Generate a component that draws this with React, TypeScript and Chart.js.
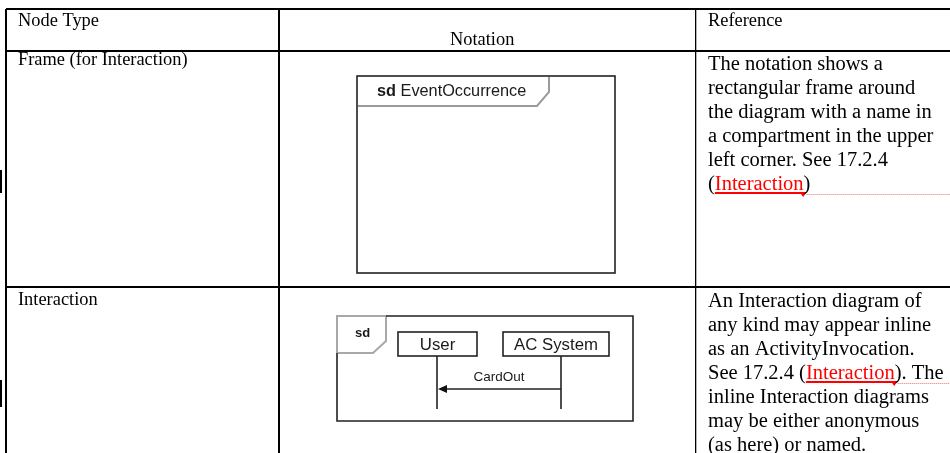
import React, { useEffect, useRef } from "react";
import { Chart, registerables } from "chart.js";

Chart.register(...registerables);

// ---- content (text of the table) ----
const columnHeaders = ["Node Type", "Notation", "Reference"];
const nodeTypes = ["Frame (for Interaction)", "Interaction"];
const referenceRow1 = [
  "The notation shows a",
  "rectangular frame around",
  "the diagram with a name in",
  "a compartment in the upper",
  "left corner. See 17.2.4",
  "(Interaction)",
];
const referenceRow2 = [
  "An Interaction diagram of",
  "any kind may appear inline",
  "as an ActivityInvocation.",
  "See 17.2.4 (Interaction). The",
  "inline Interaction diagrams",
  "may be either anonymous",
  "(as here) or named.",
];
const linkWord = "Interaction";
const frameKeyword = "sd";
const frameName = "EventOccurrence";
const lifelines = ["User", "AC System"];
const messages = ["CardOut"];

// ---- table layout (pixel units of the page) ----
const columnEdges = [6, 279, 696];
const rowEdges = [9, 51, 287];

const SERIF = '"Liberation Serif", "Times New Roman", serif';
const SANS = '"Liberation Sans", Arial, sans-serif';

const drawingPlugin = {
  id: "umlTable",
  afterDraw(chart: any) {
    const ctx: CanvasRenderingContext2D = chart.ctx;
    const X = (v: number) => chart.scales.x.getPixelForValue(v);
    const Y = (v: number) => chart.scales.y.getPixelForValue(v);
    ctx.save();
    ctx.textBaseline = "alphabetic";
    ctx.textAlign = "left";

    // change bars at the left margin
    ctx.fillStyle = "#000";
    ctx.fillRect(0, Y(170), 2, Y(193) - Y(170));
    ctx.fillRect(0, Y(380), 2, Y(407) - Y(380));

    // headers
    ctx.fillStyle = "#000";
    ctx.font = `18.4px ${SERIF}`;
    ctx.fillText(columnHeaders[0], X(18), Y(26));
    ctx.fillText(columnHeaders[1], X(450), Y(45));
    ctx.fillText(columnHeaders[2], X(708), Y(26));

    // node types
    ctx.fillText(nodeTypes[0], X(18), Y(65));
    ctx.fillText(nodeTypes[1], X(18), Y(305));

    // reference paragraphs
    const drawRef = (lines: string[], y0: number) => {
      ctx.font = `20.5px ${SERIF}`;
      lines.forEach((line, i) => {
        const y = Y(y0 + i * 24);
        let x = X(708);
        const key = "(" + linkWord + ")";
        const idx = line.indexOf(key);
        if (idx < 0) {
          ctx.fillStyle = "#000";
          ctx.fillText(line, x, y);
          return;
        }
        const pre = line.slice(0, idx + 1);
        const post = line.slice(idx + 1 + linkWord.length);
        ctx.fillStyle = "#000";
        ctx.fillText(pre, x, y);
        x += ctx.measureText(pre).width;
        const lw = ctx.measureText(linkWord).width;
        ctx.fillStyle = "#ff0000";
        ctx.fillText(linkWord, x, y);
        // underline
        ctx.fillRect(x, y + 2, lw, 2);
        // small marker
        ctx.beginPath();
        ctx.moveTo(x + lw - 4, y + 2);
        ctx.lineTo(x + lw + 3, y + 2);
        ctx.lineTo(x + lw - 0.5, y + 7);
        ctx.closePath();
        ctx.fill();
        // dotted leader to the page edge
        ctx.strokeStyle = "#f07070";
        ctx.lineWidth = 1;
        ctx.setLineDash([1, 1]);
        ctx.beginPath();
        ctx.moveTo(x + lw + 3, y + 4.5);
        ctx.lineTo(950, y + 4.5);
        ctx.stroke();
        ctx.setLineDash([]);
        ctx.fillStyle = "#000";
        ctx.fillText(post, x + lw, y);
      });
    };
    drawRef(referenceRow1, 70);
    drawRef(referenceRow2, 307);

    // ---- Frame (for Interaction) diagram ----
    ctx.strokeStyle = "#222";
    ctx.lineWidth = 1.6;
    ctx.strokeRect(X(357), Y(76), X(615) - X(357), Y(273) - Y(76));
    ctx.strokeStyle = "#9a9a9a";
    ctx.lineWidth = 2;
    ctx.beginPath();
    ctx.moveTo(X(358), Y(106));
    ctx.lineTo(X(537), Y(106));
    ctx.lineTo(X(549), Y(92));
    ctx.lineTo(X(549), Y(77));
    ctx.stroke();
    ctx.fillStyle = "#1a1a1a";
    ctx.font = `bold 16.3px ${SANS}`;
    ctx.fillText(frameKeyword, X(377), Y(96));
    const kw = ctx.measureText(frameKeyword + " ").width;
    ctx.font = `16.3px ${SANS}`;
    ctx.fillText(frameName, X(377) + kw, Y(96));

    // ---- Interaction diagram ----
    // tab (gray)
    ctx.strokeStyle = "#a8a8a8";
    ctx.lineWidth = 2;
    ctx.beginPath();
    ctx.moveTo(X(337), Y(353));
    ctx.lineTo(X(337), Y(316));
    ctx.lineTo(X(386), Y(316));
    ctx.lineTo(X(386), Y(341));
    ctx.lineTo(X(373), Y(353));
    ctx.lineTo(X(337), Y(353));
    ctx.stroke();
    // frame (dark)
    ctx.strokeStyle = "#222";
    ctx.lineWidth = 1.6;
    ctx.beginPath();
    ctx.moveTo(X(386), Y(316));
    ctx.lineTo(X(633), Y(316));
    ctx.lineTo(X(633), Y(421));
    ctx.lineTo(X(337), Y(421));
    ctx.lineTo(X(337), Y(353));
    ctx.stroke();
    ctx.fillStyle = "#1a1a1a";
    ctx.font = `bold 13px ${SANS}`;
    ctx.fillText(frameKeyword, X(355), Y(337));

    const boxes = [
      { l: 398, r: 477 },
      { l: 503, r: 609 },
    ];
    const lifeX = [437, 561];
    ctx.strokeStyle = "#222";
    ctx.lineWidth = 1.6;
    boxes.forEach((b, i) => {
      ctx.strokeRect(X(b.l), Y(332), X(b.r) - X(b.l), Y(356) - Y(332));
      ctx.font = `16.8px ${SANS}`;
      ctx.textAlign = "center";
      ctx.fillStyle = "#1a1a1a";
      ctx.fillText(lifelines[i], X((b.l + b.r) / 2), Y(350));
      ctx.beginPath();
      ctx.moveTo(X(lifeX[i]), Y(356));
      ctx.lineTo(X(lifeX[i]), Y(409));
      ctx.stroke();
    });
    // message
    ctx.beginPath();
    ctx.moveTo(X(lifeX[1]), Y(389));
    ctx.lineTo(X(lifeX[0] + 8), Y(389));
    ctx.stroke();
    ctx.fillStyle = "#111";
    ctx.beginPath();
    ctx.moveTo(X(lifeX[0] + 1), Y(389));
    ctx.lineTo(X(lifeX[0] + 10), Y(385));
    ctx.lineTo(X(lifeX[0] + 10), Y(393));
    ctx.closePath();
    ctx.fill();
    ctx.font = `13.5px ${SANS}`;
    ctx.textAlign = "center";
    ctx.fillStyle = "#1a1a1a";
    ctx.fillText(messages[0], X(499), Y(381));

    ctx.restore();
  },
};

export default function App() {
  const ref = useRef<HTMLCanvasElement | null>(null);
  useEffect(() => {
    if (!ref.current) return;
    const chart = new Chart(ref.current, {
      type: "scatter",
      data: { datasets: [] },
      plugins: [drawingPlugin],
      options: {
        animation: false,
        responsive: false,
        maintainAspectRatio: false,
        devicePixelRatio: 1,
        events: [],
        layout: { padding: { left: 6, top: 9, right: 0, bottom: 0 } },
        plugins: { legend: { display: false }, tooltip: { enabled: false } },
        scales: {
          x: {
            type: "linear",
            min: 6,
            max: 950,
            afterBuildTicks: (axis: any) => {
              axis.ticks = columnEdges.map((v) => ({ value: v }));
            },
            afterFit: (axis: any) => {
              axis.height = 0;
            },
            ticks: { display: false },
            border: { display: false },
            grid: {
              color: "#000",
              drawTicks: false,
              lineWidth: (c: any) => (c.tick && c.tick.value === 696 ? 1.3 : 2),
            },
          },
          y: {
            type: "linear",
            min: 9,
            max: 453,
            reverse: true,
            afterBuildTicks: (axis: any) => {
              axis.ticks = rowEdges.map((v) => ({ value: v }));
            },
            afterFit: (axis: any) => {
              axis.width = 0;
            },
            ticks: { display: false },
            border: { display: false },
            grid: { color: "#000", drawTicks: false, lineWidth: 2 },
          },
        },
      } as any,
    });
    return () => chart.destroy();
  }, []);
  return (
    <div style={{ position: "fixed", left: 0, top: 0, width: 950, height: 453, background: "#fff" }}>
      <canvas ref={ref} width={950} height={453} style={{ display: "block" }} />
    </div>
  );
}
